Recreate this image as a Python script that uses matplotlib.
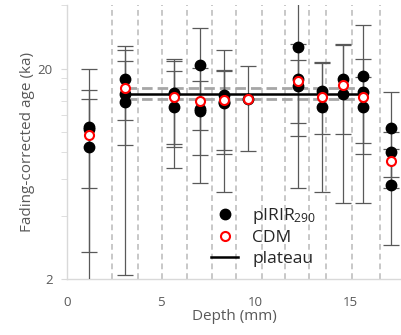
import matplotlib
matplotlib.use("Agg")
import matplotlib.pyplot as plt
from matplotlib.ticker import FixedLocator, NullFormatter

plt.rcParams['font.family'] = ['Open Sans', 'DejaVu Sans']
plt.rcParams['mathtext.default'] = 'regular'

# slice boundaries (mm)
boundaries = [2.38, 3.79, 5.06, 6.35, 7.67, 8.98, 10.32, 11.55, 12.84, 13.72, 15.08, 16.58]

# individual pIRIR290 ages (ka) and 1-sigma errors, per slice
pirir_depth = [1.2, 1.2, 1.2, 3.1, 3.1, 3.1, 5.7, 5.7, 5.7, 7.05, 7.05, 7.05,
               8.3, 8.3, 8.3, 9.6, 12.25, 12.25, 12.25, 13.5, 13.5, 14.6, 14.6,
               15.7, 15.7, 15.7, 17.15, 17.15, 17.15]
pirir_age = [10.6, 10.3, 8.5, 17.9, 15.2, 13.9, 15.3, 15.2, 13.15, 20.7, 12.6, 12.9,
             14.9, 13.9, 13.7, 14.3, 25.2, 17.9, 16.5, 15.6, 13.2, 17.9, 15.2,
             18.4, 15.5, 13.1, 10.4, 8.05, 5.6]
pirir_err = [5.2, 9.5, 5.8, 6.5, 6.5, 11.8, 6.8, 6.4, 6.4, 10.5, 4.8, 7.2,
             9.7, 5.7, 5.8, 6.2, 19.8, 8.3, 5.5, 5.8, 8.0, 8.1, 10.6,
             13.8, 6.6, 5.2, 5.0, 1.9, 2.7]

# central age model per slice
cdm_depth = [1.2, 3.1, 5.7, 7.05, 8.3, 9.6, 12.25, 13.5, 14.6, 15.7, 17.15]
cdm_age = [9.7, 16.2, 14.6, 14.0, 14.15, 14.26, 17.5, 14.7, 16.7, 14.6, 7.3]

# plateau age and its uncertainty band
plateau_x = [3.15, 15.75]
plateau_age = 15.2
plateau_low = 14.3
plateau_high = 16.2

fig = plt.figure(figsize=(4.02, 3.35), dpi=100)
ax = fig.add_axes([0.166, 0.166, 0.834, 0.819])

for b in boundaries:
    ax.axvline(b, color='#c4c4c4', lw=1.3, dashes=(3.2, 2.2), zorder=1)

ax.plot(plateau_x, [plateau_low] * 2, color='#a6a6a6', lw=2.0, dashes=(3.8, 1.8), zorder=2)
ax.plot(plateau_x, [plateau_high] * 2, color='#a6a6a6', lw=2.0, dashes=(3.8, 1.8), zorder=2)

ax.errorbar(pirir_depth, pirir_age, yerr=pirir_err, fmt='none', ecolor='#595959',
            elinewidth=0.9, capsize=5.5, capthick=0.9, zorder=3)
ax.plot(pirir_depth, pirir_age, 'o', color='black', ms=7.5, zorder=4,
        label='pIRIR$_{290}$')
ax.plot(plateau_x, [plateau_age] * 2, color='black', lw=1.8, zorder=5, label='plateau')
ax.plot(cdm_depth, cdm_age, 'o', mfc='white', mec='red', mew=1.5, ms=6.5, zorder=6,
        label='CDM')

ax.set_yscale('log')
ax.set_ylim(2, 40)
ax.set_xlim(0, 17.75)
ax.yaxis.set_major_locator(FixedLocator([2, 20]))
ax.yaxis.set_minor_locator(FixedLocator([4, 6, 8, 10, 12, 14, 16, 18, 40]))
ax.yaxis.set_minor_formatter(NullFormatter())
ax.set_yticklabels(['2', '20'])
ax.set_xticks([0, 5, 10, 15])

for side in ['top', 'right']:
    ax.spines[side].set_visible(False)
for side in ['left', 'bottom']:
    ax.spines[side].set_color('#d9d9d9')
    ax.spines[side].set_linewidth(1.0)

ax.tick_params(axis='y', which='both', length=4, color='#d9d9d9', labelcolor='#595959',
               labelsize=9.5, pad=6)
ax.tick_params(axis='x', length=0, labelcolor='#595959', labelsize=9.5, pad=12)

ax.set_xlabel('Depth (mm)', color='#595959', fontsize=11, labelpad=0)
ax.set_ylabel('Fading-corrected age (ka)', color='#595959', fontsize=11, labelpad=2)

h, l = ax.get_legend_handles_labels()
order = [0, 2, 1]
ax.legend([h[i] for i in order], [l[i] for i in order], loc='upper left',
          bbox_to_anchor=(202 / 402, 1 - 197 / 335), bbox_transform=fig.transFigure,
          frameon=False, fontsize=12.5, borderpad=0, handlelength=1.6,
          handletextpad=0.8, labelspacing=0.25, labelcolor='#262626')

fig.savefig('out.png', dpi=100)
